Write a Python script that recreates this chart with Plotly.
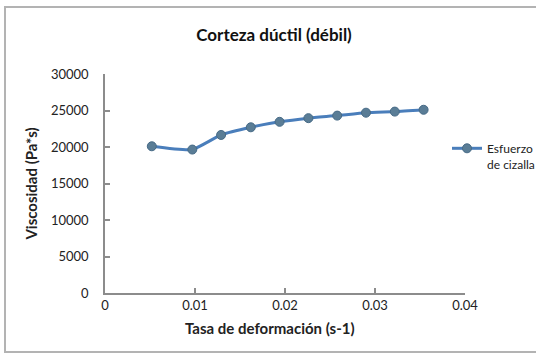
import plotly.graph_objects as go

# Shear rate (s-1) and viscosity (Pa*s) for the ductile (weak) crust
tasa_deformacion = [0.0052, 0.0097, 0.0129, 0.0162, 0.0194, 0.0226, 0.0258, 0.0290, 0.0322, 0.0354]
viscosidad = [20100, 19650, 21650, 22700, 23450, 23950, 24300, 24700, 24850, 25100]

serie_nombre = "Esfuerzo<br>de cizalla"
titulo = "Corteza dúctil (débil)"
titulo_x = "Tasa de deformación (s-1)"
titulo_y = "Viscosidad (Pa*s)"
x_ticks = [0, 0.01, 0.02, 0.03, 0.04]
x_tick_text = ["0", "0.01", "0.02", "0.03", "0.04"]
y_ticks = [0, 5000, 10000, 15000, 20000, 25000, 30000]
y_tick_text = ["0", "5000", "10000", "15000", "20000", "25000", "30000"]

FONT = "Lato"
AXIS_GRAY = "#8c8c8c"
TEXT = "#222222"

W, H = 536, 356
L, R, T, B = 105, 71, 74, 63
pw, ph = W - L - R, H - T - B

def px_x(px):
    return (px - L) / pw

def px_y(py):
    return (H - B - py) / ph

fig = go.Figure()
fig.add_trace(go.Scatter(
    x=tasa_deformacion, y=viscosidad, name=serie_nombre,
    mode="lines+markers",
    line=dict(color="#4a7ebb", width=3, shape="spline", smoothing=0.5),
    marker=dict(symbol="circle", size=9, color="#5a7d96",
                line=dict(color="#466a86", width=1)),
))

fig.update_layout(
    width=W, height=H,
    margin=dict(l=L, r=R, t=T, b=B, autoexpand=False),
    paper_bgcolor="white", plot_bgcolor="white",
    font=dict(family=FONT, size=13, color=TEXT),
    title=dict(text="<b>" + titulo + "</b>", x=px_x(274), xref="paper", xanchor="center",
               y=1 - 35 / H, yanchor="middle",
               font=dict(family=FONT, size=17, color="#111111")),
    showlegend=True,
    legend=dict(x=px_x(447), y=px_y(134), xanchor="left", yanchor="top",
                valign="top", itemwidth=30, tracegroupgap=0,
                font=dict(family=FONT, size=12, color=TEXT),
                bgcolor="rgba(0,0,0,0)"),
    xaxis=dict(range=[0, 0.04], tickvals=x_ticks, ticktext=x_tick_text,
               showgrid=False, zeroline=False, showline=True, automargin=False,
               linecolor=AXIS_GRAY, linewidth=1.5,
               ticks="inside", ticklen=5, tickcolor=AXIS_GRAY, tickwidth=1.5,
               ticklabelstandoff=0,
               tickfont=dict(family=FONT, size=13, color=TEXT)),
    yaxis=dict(range=[0, 30000], tickvals=y_ticks, ticktext=y_tick_text,
               showgrid=False, zeroline=False, showline=True, automargin=False,
               linecolor=AXIS_GRAY, linewidth=1.5,
               ticks="inside", ticklen=5, tickcolor=AXIS_GRAY, tickwidth=1.5,
               ticklabelstandoff=12,
               tickfont=dict(family=FONT, size=13, color=TEXT),
               title=dict(text="<b>" + titulo_y + "</b>", standoff=10,
                          font=dict(family=FONT, size=15, color=TEXT))),
)

# X-axis title, centred slightly left of the plot area
fig.add_annotation(text="<b>" + titulo_x + "</b>", xref="paper", yref="paper",
                   x=px_x(270), y=px_y(328), xanchor="center", yanchor="middle",
                   showarrow=False, font=dict(family=FONT, size=15, color=TEXT))

# Outer chart-area frame
fig.add_shape(type="rect", xref="paper", yref="paper",
              x0=px_x(5), x1=px_x(541), y0=px_y(352), y1=px_y(7),
              line=dict(color="#b3b3b3", width=2), fillcolor="rgba(0,0,0,0)",
              layer="below")

fig.write_html("out.html")
